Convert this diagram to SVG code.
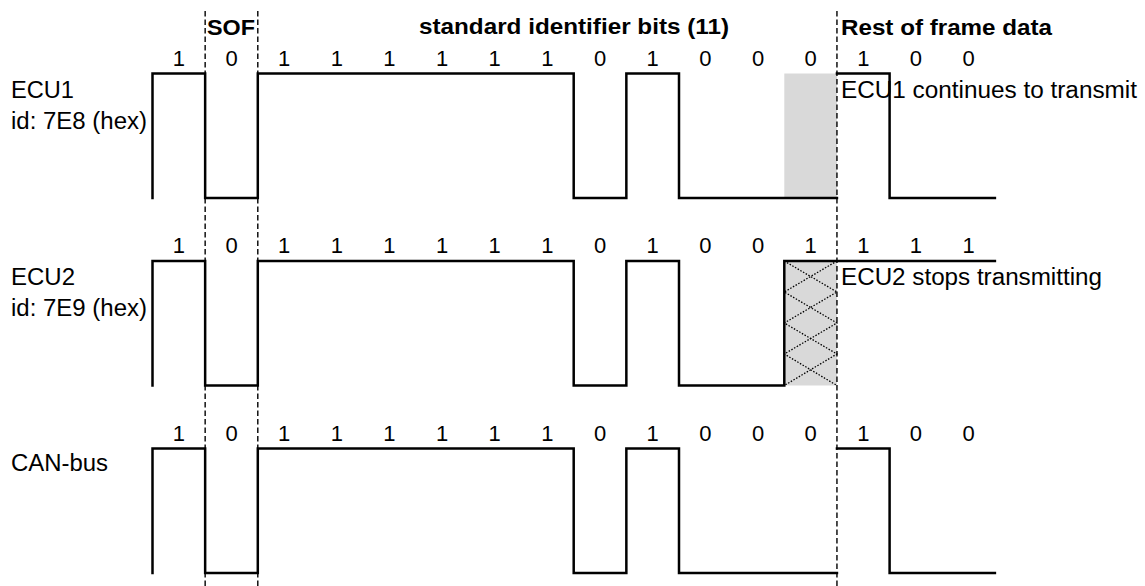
<svg xmlns="http://www.w3.org/2000/svg" width="1145" height="586" viewBox="0 0 1145 586">
  <defs>
    <style>
      .wave { fill: none; stroke: #000; stroke-width: 2.5; stroke-linejoin: miter; stroke-linecap: square; }
      .divider { fill: none; stroke: #000; stroke-width: 1.4; stroke-dasharray: 5.5 3; }
      .hatch { fill: none; stroke: #000; stroke-width: 1.3; stroke-dasharray: 1.5 1.6; }
      .label { font-family: "Liberation Sans", Arial, sans-serif; font-size: 23.5px; fill: #000; }
      .head { font-family: "Liberation Sans", Arial, sans-serif; font-size: 22.5px; font-weight: bold; fill: #000; }
      .bit { font-family: "Liberation Sans", Arial, sans-serif; font-size: 22px; fill: #000; text-anchor: middle; }
    </style>
  </defs>
  <rect x="0" y="0" width="1145" height="586" fill="#fff"/>

  <!-- field headers -->
  <g id="header">
    <text class="head" x="207" y="34.5" textLength="48" lengthAdjust="spacingAndGlyphs">SOF</text>
    <text class="head" x="419" y="34" textLength="310" lengthAdjust="spacingAndGlyphs">standard identifier bits (11)</text>
    <text class="head" x="841" y="34.5" textLength="211" lengthAdjust="spacingAndGlyphs">Rest of frame data</text>
  </g>

  <!-- ECU1, id 7E8 -->
  <g id="ecu1">
    <rect x="784.3" y="73.5" width="52.65" height="124.5" fill="#d9d9d9"/>
    <text class="label" x="11" y="97.5" textLength="63" lengthAdjust="spacingAndGlyphs">ECU1</text>
    <text class="label" x="11" y="128.5" textLength="136" lengthAdjust="spacingAndGlyphs">id: 7E8 (hex)</text>
    <text class="label" x="841" y="97.5" textLength="296" lengthAdjust="spacingAndGlyphs">ECU1 continues to transmit</text>
    <g class="bit">
      <text x="178.8" y="66">1</text><text x="231.5" y="66">0</text>
      <text x="284.1" y="66">1</text><text x="336.8" y="66">1</text><text x="389.4" y="66">1</text>
      <text x="442.1" y="66">1</text><text x="494.7" y="66">1</text><text x="547.4" y="66">1</text>
      <text x="600.0" y="66">0</text><text x="652.7" y="66">1</text><text x="705.3" y="66">0</text>
      <text x="758.0" y="66">0</text><text x="810.6" y="66">0</text>
      <text x="863.3" y="66">1</text><text x="915.9" y="66">0</text><text x="968.6" y="66">0</text>
    </g>
    <path class="wave" d="M152.5,198 V73.5 H205.15 V198 H257.8 V73.5 H573.7 V198 H626.35 V73.5 H679 V198 H836.95"/>
    <path class="wave" d="M836.95,73.5 H889.6 V198 H994.9"/>
  </g>

  <!-- ECU2, id 7E9 -->
  <g id="ecu2">
    <rect x="784.3" y="261" width="52.65" height="124.5" fill="#d9d9d9"/>
    <path class="hatch" d="M784.3,261 L836.95,292 L784.3,323 L836.95,354 L784.3,385.5"/>
    <path class="hatch" d="M836.95,261 L784.3,292 L836.95,323 L784.3,354 L836.95,385.5"/>
    <text class="label" x="11" y="284.5" textLength="64" lengthAdjust="spacingAndGlyphs">ECU2</text>
    <text class="label" x="11" y="315.5" textLength="136" lengthAdjust="spacingAndGlyphs">id: 7E9 (hex)</text>
    <text class="label" x="841" y="284.5" textLength="261" lengthAdjust="spacingAndGlyphs">ECU2 stops transmitting</text>
    <g class="bit">
      <text x="178.8" y="253">1</text><text x="231.5" y="253">0</text>
      <text x="284.1" y="253">1</text><text x="336.8" y="253">1</text><text x="389.4" y="253">1</text>
      <text x="442.1" y="253">1</text><text x="494.7" y="253">1</text><text x="547.4" y="253">1</text>
      <text x="600.0" y="253">0</text><text x="652.7" y="253">1</text><text x="705.3" y="253">0</text>
      <text x="758.0" y="253">0</text><text x="810.6" y="253">1</text>
      <text x="863.3" y="253">1</text><text x="915.9" y="253">1</text><text x="968.6" y="253">1</text>
    </g>
    <path class="wave" d="M152.5,385.5 V261 H205.15 V385.5 H257.8 V261 H573.7 V385.5 H626.35 V261 H679 V385.5 H784.3 V261 H994.9"/>
  </g>

  <!-- resulting bus level -->
  <g id="canbus">
    <text class="label" x="11" y="470.5" textLength="97" lengthAdjust="spacingAndGlyphs">CAN-bus</text>
    <g class="bit">
      <text x="178.8" y="441">1</text><text x="231.5" y="441">0</text>
      <text x="284.1" y="441">1</text><text x="336.8" y="441">1</text><text x="389.4" y="441">1</text>
      <text x="442.1" y="441">1</text><text x="494.7" y="441">1</text><text x="547.4" y="441">1</text>
      <text x="600.0" y="441">0</text><text x="652.7" y="441">1</text><text x="705.3" y="441">0</text>
      <text x="758.0" y="441">0</text><text x="810.6" y="441">0</text>
      <text x="863.3" y="441">1</text><text x="915.9" y="441">0</text><text x="968.6" y="441">0</text>
    </g>
    <path class="wave" d="M152.5,573 V448.5 H205.15 V573 H257.8 V448.5 H573.7 V573 H626.35 V448.5 H679 V573 H836.95"/>
    <path class="wave" d="M836.95,448.5 H889.6 V573 H994.9"/>
  </g>

  <!-- field boundaries -->
  <g id="connectors">
    <line class="divider" x1="205.15" y1="11" x2="205.15" y2="586"/>
    <line class="divider" x1="257.8" y1="11" x2="257.8" y2="586"/>
    <line class="divider" x1="836.95" y1="11" x2="836.95" y2="586"/>
  </g>
</svg>
